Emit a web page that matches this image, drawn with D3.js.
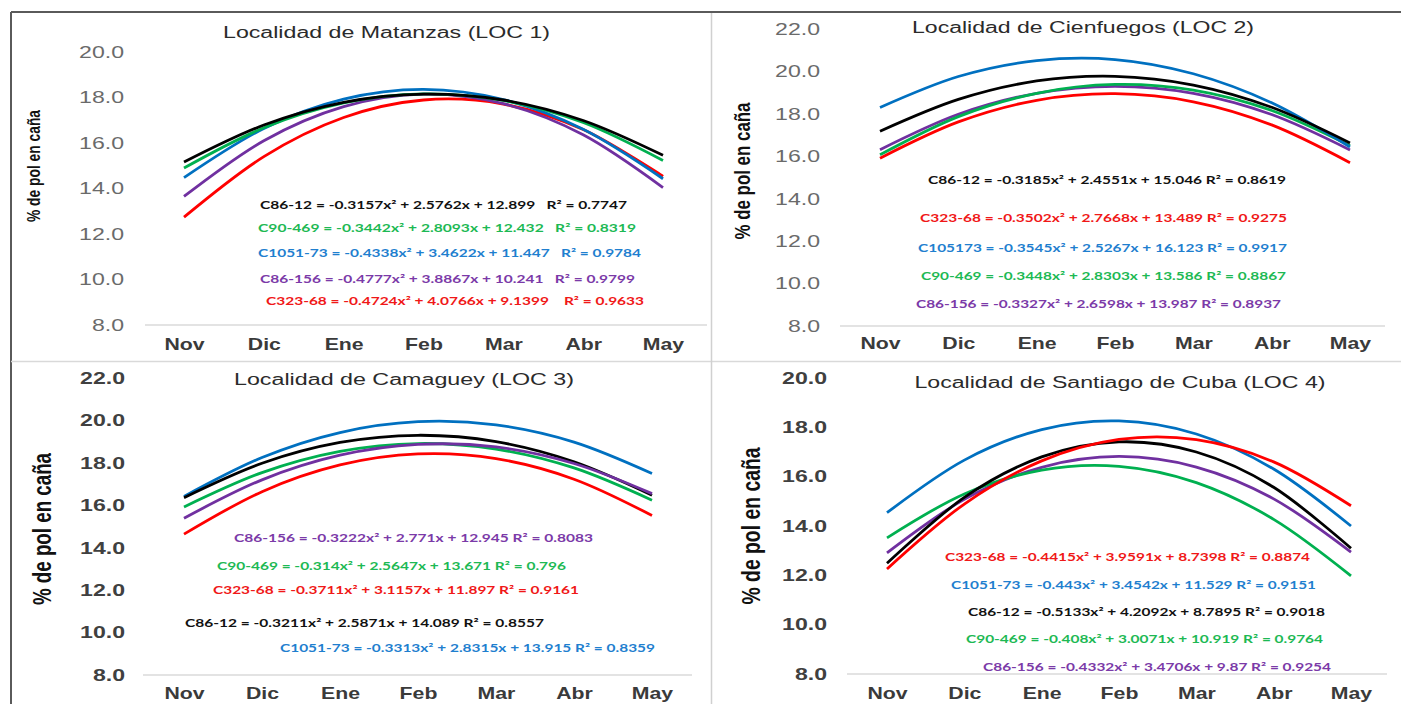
<!DOCTYPE html>
<html>
<head>
<meta charset="utf-8">
<script src="https://cdn.jsdelivr.net/npm/d3@7"></script>
<style>
  body { margin: 0; background: #fff; }
  svg { display: block; font-family: Arial, 'Liberation Sans', sans-serif; }
</style>
</head>
<body>
<svg id="chart" width="1401" height="704"></svg>
<script>
var months = ['Nov', 'Dic', 'Ene', 'Feb', 'Mar', 'Abr', 'May']

// LOC 1 - Matanzas
var loc1Names = ['C86-12', 'C90-469', 'C1051-73', 'C86-156', 'C323-68']
var loc1Values = [
  [15.16, 16.79, 17.79, 18.15, 17.89, 16.99, 15.46],
  [14.90, 16.67, 17.76, 18.16, 17.87, 16.90, 15.23],
  [14.48, 16.64, 17.93, 18.36, 17.91, 16.60, 14.43],
  [13.65, 16.10, 17.60, 18.15, 17.73, 16.36, 14.04],
  [12.74, 15.40, 17.12, 17.89, 17.71, 16.59, 14.53]
]
var loc1Equations = [
  'C86-12 = -0.3157x² + 2.5762x + 12.899   R² = 0.7747',
  'C90-469 = -0.3442x² + 2.8093x + 12.432   R² = 0.8319',
  'C1051-73 = -0.4338x² + 3.4622x + 11.447   R² = 0.9784',
  'C86-156 = -0.4777x² + 3.8867x + 10.241   R² = 0.9799',
  'C323-68 = -0.4724x² + 4.0766x + 9.1399    R² = 0.9633'
]
var loc1Ticks = [8, 10, 12, 14, 16, 18, 20]

// LOC 2 - Cienfuegos
var loc2Names = ['C86-12', 'C323-68', 'C1051-73', 'C90-469', 'C86-156']
var loc2Values = [
  [17.18, 18.68, 19.55, 19.77, 19.36, 18.31, 16.63],
  [15.91, 17.62, 18.64, 18.95, 18.57, 17.48, 15.70],
  [18.30, 19.76, 20.51, 20.56, 19.89, 18.52, 16.44],
  [16.07, 17.87, 18.97, 19.39, 19.12, 18.16, 16.50],
  [16.31, 17.98, 18.97, 19.30, 18.97, 17.97, 16.30]
]
var loc2Equations = [
  'C86-12 = -0.3185x² + 2.4551x + 15.046 R² = 0.8619',
  'C323-68 = -0.3502x² + 2.7668x + 13.489 R² = 0.9275',
  'C105173 = -0.3545x² + 2.5267x + 16.123 R² = 0.9917',
  'C90-469 = -0.3448x² + 2.8303x + 13.586 R² = 0.8867',
  'C86-156 = -0.3327x² + 2.6598x + 13.987 R² = 0.8937'
]
var loc2Ticks = [8, 10, 12, 14, 16, 18, 20, 22]

// LOC 3 - Camaguey
var loc3Names = ['C86-156', 'C90-469', 'C323-68', 'C86-12', 'C1051-73']
var loc3Values = [
  [15.39, 17.20, 18.36, 18.87, 18.75, 17.97, 16.55],
  [15.92, 17.54, 18.54, 18.91, 18.65, 17.76, 16.24],
  [14.64, 16.64, 17.90, 18.42, 18.20, 17.23, 15.52],
  [16.36, 17.98, 18.96, 19.30, 19.00, 18.05, 16.47],
  [16.42, 18.25, 19.43, 19.94, 19.79, 18.98, 17.50]
]
var loc3Equations = [
  'C86-156 = -0.3222x² + 2.771x + 12.945 R² = 0.8083',
  'C90-469 = -0.314x² + 2.5647x + 13.671 R² = 0.796',
  'C323-68 = -0.3711x² + 3.1157x + 11.897 R² = 0.9161',
  'C86-12 = -0.3211x² + 2.5871x + 14.089 R² = 0.8557',
  'C1051-73 = -0.3313x² + 2.8315x + 13.915 R² = 0.8359'
]
var loc3Ticks = [8, 10, 12, 14, 16, 18, 20, 22]

// LOC 4 - Santiago de Cuba
var loc4Names = ['C323-68', 'C1051-73', 'C86-12', 'C90-469', 'C86-156']
var loc4Values = [
  [12.26, 14.89, 16.64, 17.51, 17.50, 16.60, 14.82],
  [14.54, 16.67, 17.91, 18.26, 17.73, 16.31, 14.00],
  [12.49, 15.16, 16.80, 17.41, 17.00, 15.57, 13.10],
  [13.52, 15.30, 16.27, 16.42, 15.76, 14.27, 11.98],
  [12.91, 15.08, 16.38, 16.82, 16.39, 15.10, 12.94]
]
var loc4Equations = [
  'C323-68 = -0.4415x² + 3.9591x + 8.7398 R² = 0.8874',
  'C1051-73 = -0.443x² + 3.4542x + 11.529 R² = 0.9151',
  'C86-12 = -0.5133x² + 4.2092x + 8.7895 R² = 0.9018',
  'C90-469 = -0.408x² + 3.0071x + 10.919 R² = 0.9764',
  'C86-156 = -0.4332x² + 3.4706x + 9.87 R² = 0.9254'
]
var loc4Ticks = [8, 10, 12, 14, 16, 18, 20]

var titles = [
  'Localidad de Matanzas (LOC 1)',
  'Localidad de Cienfuegos (LOC 2)',
  'Localidad de Camaguey (LOC 3)',
  'Localidad de Santiago de Cuba (LOC 4)'
]
var yTitle = '% de pol en caña'

// line colours per cultivar
var color = d3.scaleOrdinal()
  .domain(['C86-12', 'C90-469', 'C1051-73', 'C86-156', 'C323-68'])
  .range(['#000000', '#00b050', '#0070c0', '#7030a0', '#ff0000'])
var textColor = d3.scaleOrdinal()
  .domain(['C86-12', 'C90-469', 'C1051-73', 'C86-156', 'C323-68'])
  .range(['#111111', '#1db954', '#1f7fcf', '#7b3aa8', '#f01818'])

var panels = [
  { names: loc1Names, values: loc1Values, eqs: loc1Equations, ticks: loc1Ticks },
  { names: loc2Names, values: loc2Values, eqs: loc2Equations, ticks: loc2Ticks },
  { names: loc3Names, values: loc3Values, eqs: loc3Equations, ticks: loc3Ticks },
  { names: loc4Names, values: loc4Values, eqs: loc4Equations, ticks: loc4Ticks }
]

// pixel layout of each panel (the original image is stretched sideways)
var layout = [
  { x: [184, 663], y: [325, 52], tickX: 124, bold: false, labelY: 350, base: [145, 707, 325],
    title: [386.5, 38, 327], ylab: [33, 166, 112, 14],
    eqPos: [[260, 627, 205], [258, 636, 228], [258, 641, 253], [260, 635, 279], [266, 644, 301]] },
  { x: [880, 1350], y: [326, 29], tickX: 820, bold: false, labelY: 349, base: [840, 1385, 326],
    title: [1083, 33, 342], ylab: [742, 171, 137, 17],
    eqPos: [[928, 1286, 180], [920, 1287, 218], [918, 1287, 248], [921, 1286, 276], [916, 1281, 304]] },
  { x: [184, 652], y: [675, 378], tickX: 125, bold: true, labelY: 699, base: [143, 692, 675],
    title: [404, 385, 340], ylab: [42, 529, 152, 18.5],
    eqPos: [[234, 593, 538], [217, 566, 566], [213, 579, 590], [185, 544, 623], [280, 655, 648]] },
  { x: [887, 1351], y: [674, 378], tickX: 827, bold: true, labelY: 699, base: [847, 1387, 674],
    title: [1120, 388, 411], ylab: [751, 526, 157, 19],
    eqPos: [[945, 1310, 557], [951, 1316, 585], [968, 1325, 612], [966, 1323, 639], [983, 1331, 667]] }
]

var svg = d3.select('#chart')

// frame and separators
svg.append('line').attr('x1', 11).attr('x2', 1401).attr('y1', 12).attr('y2', 12)
  .attr('stroke', '#5a5a5a').attr('stroke-width', 2)
svg.append('line').attr('x1', 11).attr('x2', 11).attr('y1', 12).attr('y2', 704)
  .attr('stroke', '#5a5a5a').attr('stroke-width', 2)
svg.append('line').attr('x1', 11).attr('x2', 1401).attr('y1', 361.5).attr('y2', 361.5)
  .attr('stroke', '#d9d9d9').attr('stroke-width', 1.5)
svg.append('line').attr('x1', 711.5).attr('x2', 711.5).attr('y1', 13).attr('y2', 704)
  .attr('stroke', '#d0d0d0').attr('stroke-width', 1.5)

panels.forEach(function(p, k) {
  var L = layout[k]
  var g = svg.append('g')

  var xScale = d3.scalePoint().domain(months).range(L.x)
  var yScale = d3.scaleLinear()
    .domain([d3.min(p.ticks), d3.max(p.ticks)])
    .range(L.y)

  // horizontal axis base line
  g.append('line')
    .attr('x1', L.base[0]).attr('x2', L.base[1])
    .attr('y1', L.base[2]).attr('y2', L.base[2])
    .attr('stroke', '#e3e3e3').attr('stroke-width', 2)

  // y axis labels
  var yAxis = g.append('g')
    .attr('transform', 'translate(' + L.tickX + ',0)')
    .call(d3.axisLeft(yScale).tickValues(p.ticks).tickFormat(d3.format('.1f')).tickSize(0).tickPadding(0))
  yAxis.select('.domain').remove()
  yAxis.selectAll('text')
    .attr('x', 0)
    .attr('transform', 'scale(1.4,1)')
    .attr('fill', L.bold ? '#404040' : '#6a6a6a')
    .style('font-size', '16.5px')
    .style('font-weight', L.bold ? 'bold' : 'normal')
    .style('font-family', 'Arial, "Liberation Sans", sans-serif')

  // x axis labels
  var xAxis = g.append('g')
    .attr('transform', 'translate(0,' + L.labelY + ')')
    .call(d3.axisBottom(xScale).tickSize(0))
  xAxis.select('.domain').remove()
  xAxis.selectAll('text')
    .attr('y', 0).attr('dy', null)
    .attr('transform', 'scale(1.25,1)')
    .attr('fill', '#3a3a3a')
    .style('font-size', '17px')
    .style('font-weight', 'bold')
    .style('font-family', 'Arial, "Liberation Sans", sans-serif')

  // title
  g.append('text')
    .attr('x', L.title[0]).attr('y', L.title[1])
    .attr('text-anchor', 'middle')
    .attr('textLength', L.title[2])
    .attr('lengthAdjust', 'spacingAndGlyphs')
    .attr('fill', '#2b2b2b')
    .style('font-size', '16px')
    .text(titles[k])

  // y axis title
  g.append('text')
    .attr('transform', 'translate(' + L.ylab[0] + ',' + L.ylab[1] + ') scale(1.35,1) rotate(-90)')
    .attr('text-anchor', 'middle')
    .attr('dy', '0.35em')
    .attr('textLength', L.ylab[2])
    .attr('lengthAdjust', 'spacingAndGlyphs')
    .attr('fill', '#111')
    .style('font-size', L.ylab[3] + 'px')
    .style('font-weight', 'bold')
    .text(yTitle)

  // trend curves
  var line = d3.line()
    .x(function(d, i) { return xScale(months[i]) })
    .y(function(d) { return yScale(d) })
    .curve(d3.curveCardinal)

  var order = d3.range(p.names.length).reverse()
  g.selectAll('.curve')
    .data(order)
    .enter()
    .append('path')
    .attr('class', 'curve')
    .attr('d', function(i) { return line(p.values[i]) })
    .attr('fill', 'none')
    .attr('stroke', function(i) { return color(p.names[i]) })
    .attr('stroke-width', 2.8)

  // equations
  g.selectAll('.eq')
    .data(p.eqs)
    .enter()
    .append('text')
    .attr('class', 'eq')
    .attr('x', function(d, i) { return L.eqPos[i][0] })
    .attr('y', function(d, i) { return L.eqPos[i][2] })
    .attr('dy', '0.35em')
    .attr('textLength', function(d, i) { return L.eqPos[i][1] - L.eqPos[i][0] })
    .attr('lengthAdjust', 'spacingAndGlyphs')
    .attr('fill', function(d, i) { return textColor(p.names[i]) })
    .style('white-space', 'pre')
    .style('font-family', 'Lato, "Open Sans", sans-serif')
    .style('font-size', '11.5px')
    .style('font-weight', 'bold')
    .text(function(d) { return d })
})
</script>
</body>
</html>
